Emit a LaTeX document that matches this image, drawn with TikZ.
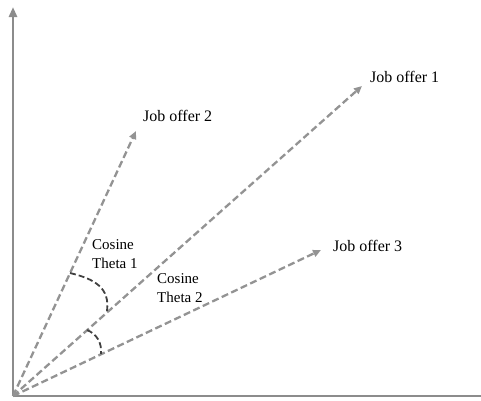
\documentclass[tikz,border=0pt]{standalone}
\usepackage{fontspec}
\setmainfont{Liberation Serif}
\usetikzlibrary{arrows.meta}
\begin{document}
\begin{tikzpicture}[x=1pt,y=-1pt,
  axis/.style={draw=gray!90,line width=2.8pt},
  vec/.style={draw=gray!85,line width=2.3pt,dash pattern=on 7pt off 3.5pt,-{Triangle[length=8pt,width=7pt]}},
  anglearc/.style={draw=black!75,line width=1.8pt,dash pattern=on 6pt off 3pt},
  lbl/.style={font=\fontsize{16}{19}\selectfont,inner sep=0pt,anchor=west,align=left}]
\useasboundingbox (0,0) rectangle (481,400);
\coordinate (O) at (13,396);
\coordinate (ytop) at (13,7);
\coordinate (xend) at (481,396);
\draw[axis,-{Triangle[length=10pt,width=8pt]}] (O) -- (ytop);
\draw[axis] (O) -- (xend);
\coordinate (e1) at (362,86);
\coordinate (e2) at (136,131);
\coordinate (e3) at (321,250);
\draw[vec] (O) -- (e1);
\draw[vec] (O) -- (e2);
\draw[vec] (O) -- (e3);
\node[lbl] (l1) at (370,77) {Job offer 1};
\node[lbl] (l2) at (143,116) {Job offer 2};
\node[lbl] (l3) at (333,246) {Job offer 3};
\node[lbl,font=\fontsize{15}{19}\selectfont] (c1) at (92,254) {Cosine\\Theta 1};
\node[lbl,font=\fontsize{15}{19}\selectfont] (c2) at (157,288) {Cosine\\Theta 2};
\coordinate (a1s) at (70,273);
\coordinate (a1e) at (107,311);
\draw[anglearc] (a1s) .. controls (95,279) and (110,288) .. (a1e);
\coordinate (a2s) at (87,330);
\coordinate (a2e) at (101,354);
\draw[anglearc] (a2s) .. controls (97,334) and (102,343) .. (a2e);
\end{tikzpicture}
\end{document}
